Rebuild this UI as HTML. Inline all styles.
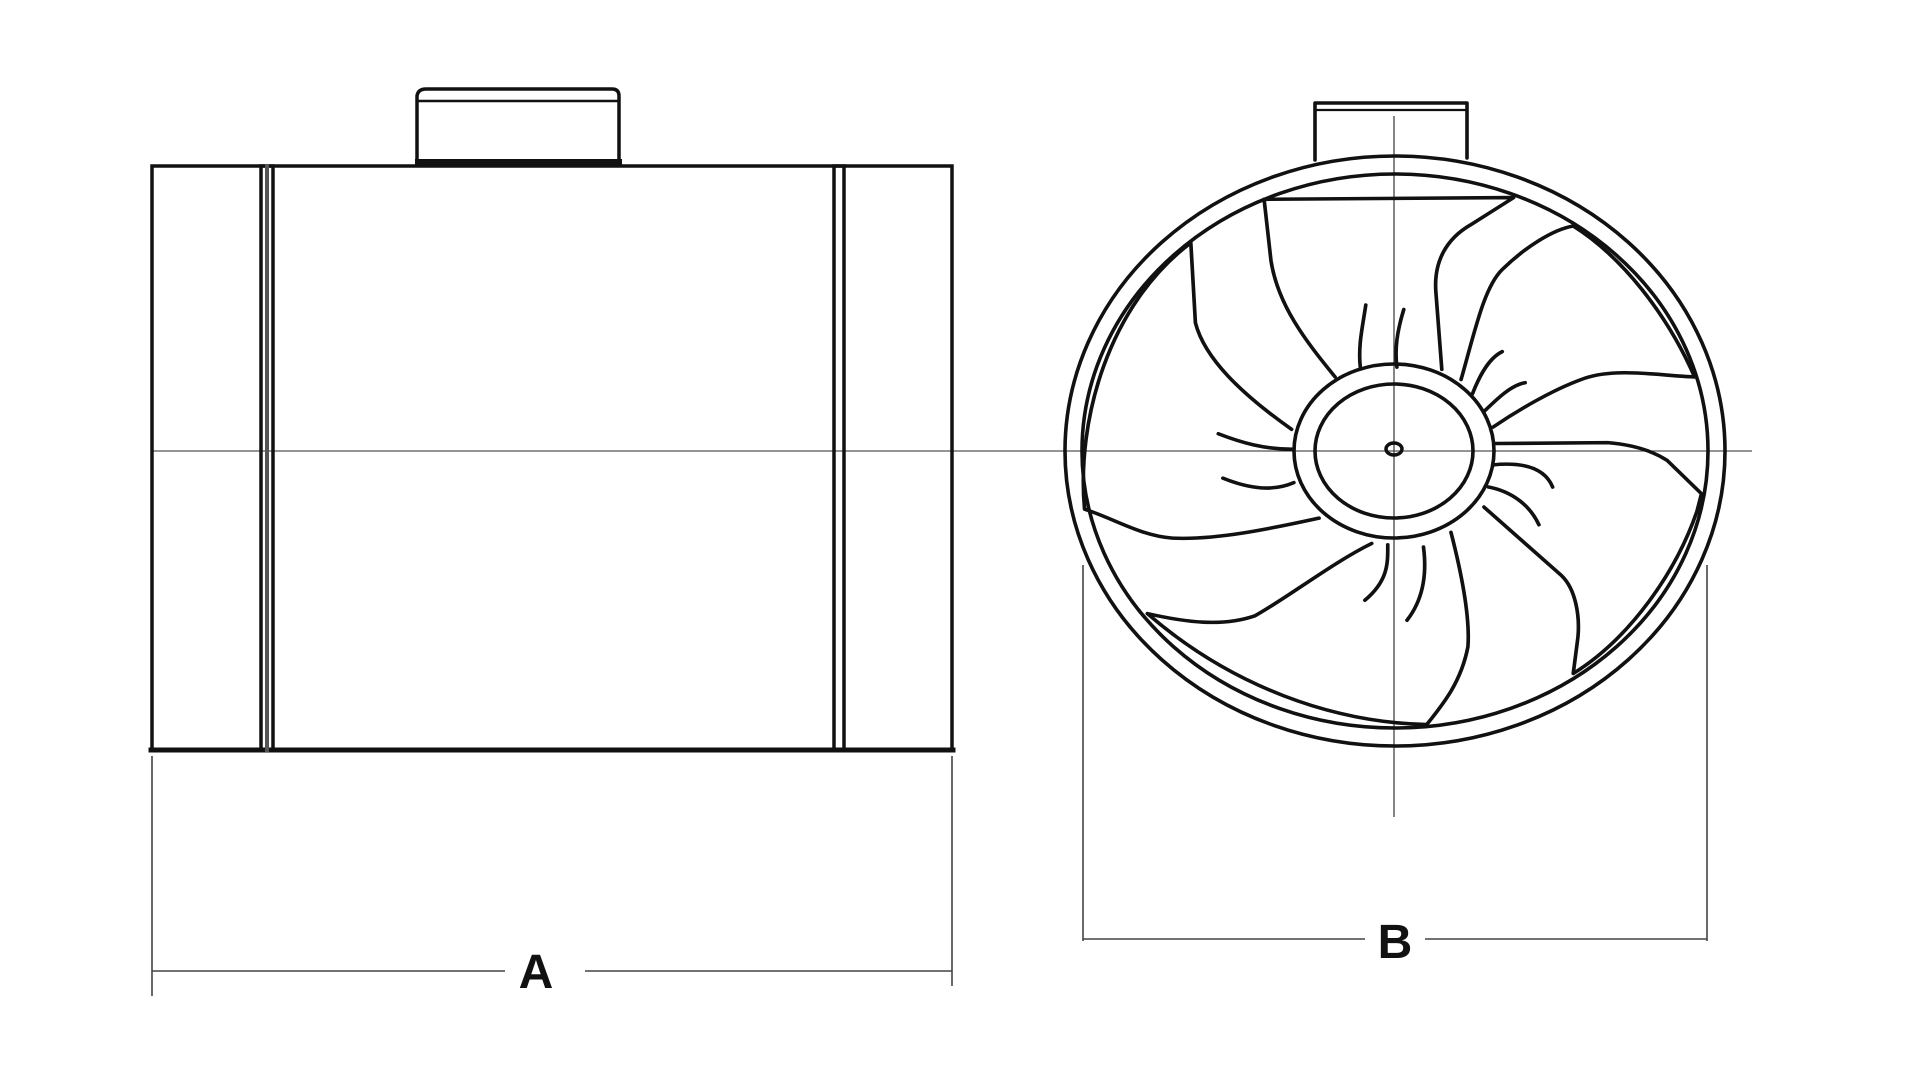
<!DOCTYPE html>
<html><head><meta charset="utf-8"><style>
html,body{margin:0;padding:0;background:#fff;}
svg{display:block;}
</style></head><body>
<svg width="1920" height="1080" viewBox="0 0 1920 1080" xmlns="http://www.w3.org/2000/svg">
<rect width="1920" height="1080" fill="#fff"/>
<!-- centerline -->
<line x1="152" y1="451" x2="1752" y2="451" stroke="#555" stroke-width="1.3"/>
<!-- left body -->
<g fill="none" stroke="#111" stroke-linecap="square">
<rect x="152" y="166" width="800" height="584" stroke-width="3.5"/>
<line x1="151" y1="750" x2="953" y2="750" stroke-width="5"/>
<rect x="261" y="166" width="12" height="584" stroke-width="3.5"/>
<line x1="267" y1="166" x2="267" y2="750" stroke="#555" stroke-width="4"/>
<rect x="834" y="166" width="10" height="584" stroke-width="3.5"/>
<path d="M417 164 L417 96 Q418 89 426 89 L612 89 Q619 89 619 96 L619 164" stroke-width="3.5"/>
<line x1="418" y1="101" x2="619" y2="101" stroke-width="2.5"/>
<line x1="418" y1="162" x2="619" y2="162" stroke-width="6"/>
</g>
<!-- dimension A -->
<g stroke="#444" stroke-width="1.6" fill="none">
<line x1="152" y1="756" x2="152" y2="996"/>
<line x1="952" y1="756" x2="952" y2="986"/>
<line x1="152" y1="971" x2="505" y2="971"/>
<line x1="585" y1="971" x2="952" y2="971"/>
</g>
<text x="536" y="988" font-family="Liberation Sans, sans-serif" font-size="48" font-weight="bold" text-anchor="middle" fill="#111">A</text>
<!-- dimension B -->
<g stroke="#444" stroke-width="1.6" fill="none">
<line x1="1083" y1="565" x2="1083" y2="941"/>
<line x1="1707" y1="565" x2="1707" y2="941"/>
<line x1="1083" y1="939" x2="1365" y2="939"/>
<line x1="1425" y1="939" x2="1707" y2="939"/>
<line x1="1394" y1="116" x2="1394" y2="817" stroke-width="1.3"/>
</g>
<text x="1395" y="958" font-family="Liberation Sans, sans-serif" font-size="48" font-weight="bold" text-anchor="middle" fill="#111">B</text>
<!-- fan -->
<g fill="none" stroke="#111" stroke-width="3.6" stroke-linecap="round" stroke-linejoin="round">
<ellipse cx="1395" cy="451" rx="330" ry="295"/>
<ellipse cx="1395" cy="451" rx="313" ry="277"/>
<path d="M1315 160 L1315 103 L1467 103 L1467 158"/>
<line x1="1316" y1="110" x2="1467" y2="110" stroke-width="2.2"/>
<ellipse cx="1394" cy="451" rx="100" ry="87"/>
<ellipse cx="1394" cy="451" rx="79" ry="67"/>
<ellipse cx="1394" cy="449" rx="8" ry="6" stroke-width="3.5"/>
</g>
<g transform="translate(1058,83) scale(0.458,0.444)" fill="none" stroke="#111" stroke-width="8" stroke-linecap="round" stroke-linejoin="round">
<path d="M605 662 C540 580 480 500 465 400 L450 262 L995 258 L900 320 C850 350 820 400 825 470 L838 645"/>
<path d="M880 668 C910 560 930 460 970 420 C1020 370 1080 330 1125 322 C1230 390 1330 520 1390 662 C1320 660 1220 640 1150 665 C1080 690 1000 740 950 775"/>
<path d="M955 812 L1200 810 C1260 815 1300 830 1330 850 L1405 925 L1395 965 C1350 1100 1250 1250 1125 1330 L1135 1250 C1140 1200 1130 1140 1100 1110 L930 955"/>
<path d="M858 1012 C880 1100 900 1200 895 1270 C880 1350 840 1400 805 1445 C600 1440 380 1360 195 1195 C280 1215 360 1225 430 1200 C500 1160 600 1080 685 1037"/>
<path d="M570 980 C480 1000 350 1030 250 1025 C180 1020 120 980 58 960 C40 760 110 500 290 360 L300 540 C320 620 400 700 510 780"/>
<path d="M660 640 C655 590 665 550 672 500"/>
<path d="M740 640 C735 600 740 560 755 510"/>
<path d="M905 700 C920 660 940 620 970 605"/>
<path d="M930 740 C960 710 990 680 1020 675"/>
<path d="M950 860 C1000 855 1060 860 1080 910"/>
<path d="M940 910 C990 920 1030 950 1050 995"/>
<path d="M515 900 C470 920 420 915 360 890"/>
<path d="M515 825 C450 825 400 810 350 790"/>
<path d="M720 1040 C720 1080 722 1120 670 1165"/>
<path d="M798 1045 C805 1100 800 1160 762 1210"/>
</g>
</svg>
</body></html>
